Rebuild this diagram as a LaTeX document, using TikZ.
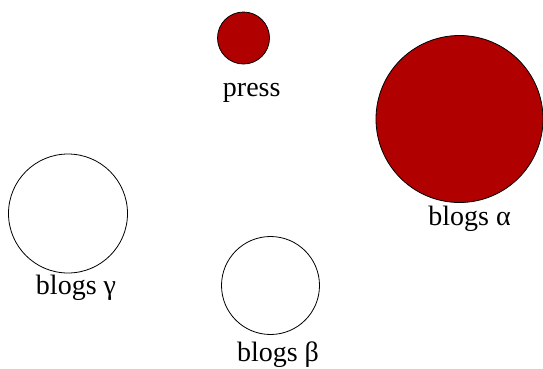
\documentclass[tikz,border=0pt]{standalone}
\usepackage{fontspec}
\setmainfont{Liberation Serif}
\definecolor{darkred}{RGB}{176,0,0}
\begin{document}
\begin{tikzpicture}[x=1pt,y=-1pt,
  blob/.style={circle,draw=black,line width=0.8pt,inner sep=0pt},
  hot/.style={blob,fill=darkred},
  cold/.style={blob,fill=white},
  lbl/.style={anchor=base,inner sep=0pt,font=\fontsize{28}{30}\selectfont}]
\useasboundingbox (0,0) rectangle (543,368);
\node[hot,minimum size=52pt] (press) at (243.5,38) {};
\node[hot,minimum size=167pt] (alpha) at (459.5,119) {};
\node[cold,minimum size=119pt] (gamma) at (68,213.5) {};
\node[cold,minimum size=98pt] (beta) at (270.5,285.5) {};
\node[lbl] (presslbl) at (251.7,96) {press};
\node[lbl] (alphalbl) at (469.5,225.7) {blogs α};
\node[lbl] (gammalbl) at (76,294) {blogs γ};
\node[lbl] (betalbl) at (278,361.5) {blogs β};
\end{tikzpicture}
\end{document}
